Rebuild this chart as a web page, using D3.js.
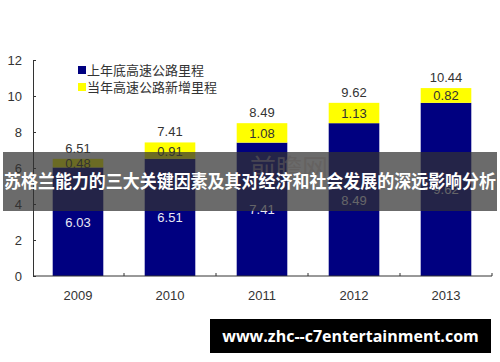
<!DOCTYPE html>
<html lang="zh">
<head>
<meta charset="UTF-8">
<title>高速公路里程</title>
<style>
  body { margin: 0; background: #fff; }
  svg text { font-family: Arial, "Liberation Sans", "Noto Sans CJK SC", sans-serif; }
</style>
</head>
<body>
<div id="chart"></div>
<script src="https://cdn.jsdelivr.net/npm/d3@7/dist/d3.min.js"></script>
<script>
var years = ["2009", "2010", "2011", "2012", "2013"];
var prevKm = [6.03, 6.51, 7.41, 8.49, 9.62];
var newKm = [0.48, 0.91, 1.08, 1.13, 0.82];
var totals = [6.51, 7.41, 8.49, 9.62, 10.44];
var yTicks = [0, 2, 4, 6, 8, 10, 12];
var seriesNames = ["上年底高速公路里程", "当年高速公路新增里程"];
var colors = ["#000080", "#ffff00"];

var width = 500, height = 362;
var svg = d3.select("#chart").append("svg")
    .attr("width", width).attr("height", height);

var x = d3.scaleBand().domain(years).range([32, 492]).paddingInner(0.45).paddingOuter(0.225);
var y = d3.scaleLinear().domain([0, 12]).range([276, 60]);

// bars
var rows = years.map(function (yr, i) { return { year: yr, prev: prevKm[i], add: newKm[i], total: totals[i] }; });

svg.selectAll(".prev").data(rows).enter().append("rect")
    .attr("x", function (d) { return x(d.year); })
    .attr("width", x.bandwidth())
    .attr("y", function (d) { return y(d.prev); })
    .attr("height", function (d) { return y(0) - y(d.prev); })
    .attr("fill", colors[0]);

svg.selectAll(".add").data(rows).enter().append("rect")
    .attr("x", function (d) { return x(d.year); })
    .attr("width", x.bandwidth())
    .attr("y", function (d) { return y(d.prev + d.add); })
    .attr("height", function (d) { return y(d.prev) - y(d.prev + d.add); })
    .attr("fill", colors[1]);

// labels
svg.selectAll(".lp").data(rows).enter().append("text")
    .attr("x", function (d) { return x(d.year) + x.bandwidth() / 2; })
    .attr("y", function (d) { return (y(d.prev) + y(0)) / 2 + 5; })
    .attr("text-anchor", "middle").attr("font-size", 13).attr("fill", "#e8e8f4")
    .text(function (d) { return d.prev.toFixed(2); });

svg.selectAll(".la").data(rows).enter().append("text")
    .attr("x", function (d) { return x(d.year) + x.bandwidth() / 2; })
    .attr("y", function (d) { return (y(d.prev) + y(d.prev + d.add)) / 2 + 5; })
    .attr("text-anchor", "middle").attr("font-size", 13).attr("fill", "#333")
    .text(function (d) { return d.add.toFixed(2); });

svg.selectAll(".lt").data(rows).enter().append("text")
    .attr("x", function (d) { return x(d.year) + x.bandwidth() / 2; })
    .attr("y", function (d) { return y(d.prev + d.add) - 6; })
    .attr("text-anchor", "middle").attr("font-size", 13).attr("fill", "#333")
    .text(function (d) { return d.total.toFixed(2); });

// axes
var yAxis = d3.axisLeft(y).tickValues(yTicks).tickSize(-3).tickPadding(11);
var gy = svg.append("g").attr("transform", "translate(33,0)").call(yAxis);
gy.select(".domain").attr("stroke", "#333");
gy.selectAll(".tick line").attr("stroke", "#333");
gy.selectAll("text").attr("font-size", 13).attr("fill", "#333");

var xAxis = d3.axisBottom(x).tickSize(0).tickPadding(15);
var gx = svg.append("g").attr("transform", "translate(0,276)").call(xAxis);
gx.select(".domain").attr("stroke", "#333").attr("d", "M33,0H492");
gx.selectAll("text").attr("font-size", 13).attr("fill", "#333");
gx.selectAll(".sep").data(years).enter().append("line")
    .attr("x1", function (d) { return x(d) + x.bandwidth() + x.step() * 0.225; })
    .attr("x2", function (d) { return x(d) + x.bandwidth() + x.step() * 0.225; })
    .attr("y1", 0).attr("y2", -3).attr("stroke", "#333");

// legend
var leg = svg.append("g");
seriesNames.forEach(function (name, i) {
    leg.append("rect").attr("x", 78).attr("y", 66 + i * 17).attr("width", 8).attr("height", 8).attr("fill", colors[i]);
    leg.append("text").attr("x", 87).attr("y", 75 + i * 17).attr("font-size", 13).attr("fill", "#333").text(name);
});

// faint watermark
svg.append("text").attr("x", 250).attr("y", 178).attr("font-size", 26)
    .attr("fill", "#d9c8c0").attr("opacity", 0.6).text("前瞻网");

// overlay banner
svg.append("rect").attr("x", 3).attr("y", 152).attr("width", 494).attr("height", 59)
    .attr("fill", "rgb(50,50,50)").attr("opacity", 0.72);
svg.append("text").attr("x", 250).attr("y", 188).attr("text-anchor", "middle")
    .attr("font-size", 18).attr("font-weight", "bold").attr("fill", "#fff")
    .style("font-family", "'Noto Sans CJK SC', sans-serif")
    .attr("textLength", 492).attr("lengthAdjust", "spacingAndGlyphs")
    .text("苏格兰能力的三大关键因素及其对经济和社会发展的深远影响分析");

// url box
svg.append("rect").attr("x", 210).attr("y", 319).attr("width", 281).attr("height", 34).attr("fill", "#000");
svg.append("text").attr("x", 350.5).attr("y", 342).attr("text-anchor", "middle")
    .attr("font-size", 16).attr("font-weight", "bold").attr("fill", "#fff")
    .style("font-family", "'Open Sans', 'DejaVu Sans', sans-serif")
    .text("www.zhc--c7entertainment.com");
</script>
</body>
</html>
